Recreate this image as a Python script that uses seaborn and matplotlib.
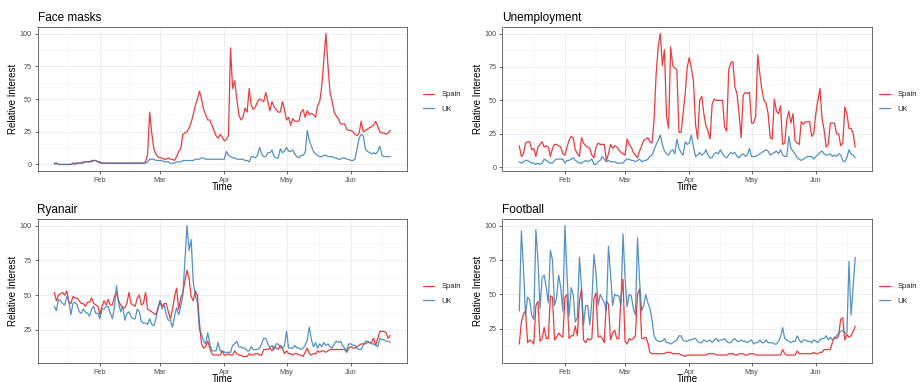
import numpy as np
import pandas as pd
import matplotlib
matplotlib.use("Agg")
import matplotlib.pyplot as plt
import matplotlib.dates as mdates
from matplotlib.lines import Line2D
from matplotlib.ticker import MultipleLocator
import seaborn as sns

# ---------------------------------------------------------------------------
# Daily Google-Trends style relative interest, 10 Jan 2020 - 20 Jun 2020
# ---------------------------------------------------------------------------
start_date = "2020-01-10"
end_date = "2020-06-20"
countries = ["Spain", "UK"]
panel_titles = ["Face masks", "Unemployment", "Ryanair", "Football"]

face_masks_spain = [
    1, 1, 0, 0, 0, 0, 0, 0, 0, 1,
    0, 1, 1, 1, 2, 2, 2, 2, 3, 3,
    3, 2, 2, 1, 1, 1, 1, 1, 1, 1,
    1, 1, 1, 1, 1, 1, 1, 1, 1, 1,
    1, 1, 1, 1, 2, 8, 40, 24, 12, 8,
    6, 5, 5, 4, 4, 5, 4, 4, 3, 6,
    10, 12, 23, 24, 25, 28, 32, 38, 45, 50,
    56, 50, 42, 38, 34, 34, 30, 26, 22, 20,
    23, 21, 18, 19, 22, 89, 58, 64, 50, 38,
    34, 36, 43, 40, 58, 45, 42, 44, 48, 50,
    49, 48, 55, 48, 41, 48, 44, 42, 40, 40,
    48, 42, 34, 36, 30, 35, 33, 33, 33, 40,
    42, 36, 41, 38, 39, 38, 36, 45, 48, 60,
    80, 100, 75, 55, 48, 40, 37, 35, 31, 31,
    31, 27, 26, 26, 25, 23, 22, 24, 33, 25,
    26, 27, 28, 29, 30, 33, 29, 25, 24, 24,
    23, 24, 26,
]
face_masks_uk = [
    0, 1, 0, 0, 0, 0, 0, 0, 0, 1,
    1, 1, 1, 1, 1, 2, 2, 2, 2, 3,
    3, 2, 1, 1, 1, 1, 1, 1, 1, 1,
    1, 1, 1, 1, 1, 1, 1, 1, 1, 1,
    1, 1, 1, 1, 1, 2, 4, 4, 4, 3,
    3, 3, 3, 2, 2, 2, 1, 1, 1, 2,
    2, 2, 3, 3, 3, 3, 3, 3, 4, 4,
    4, 5, 5, 4, 4, 4, 4, 4, 4, 4,
    4, 4, 4, 10, 7, 6, 5, 5, 4, 4,
    4, 4, 3, 3, 2, 6, 6, 5, 7, 13,
    8, 6, 6, 9, 9, 11, 6, 5, 5, 12,
    9, 10, 13, 10, 10, 11, 8, 6, 5, 7,
    7, 9, 26, 18, 14, 10, 8, 7, 6, 6,
    7, 7, 6, 6, 6, 5, 5, 4, 4, 5,
    5, 4, 4, 3, 3, 4, 12, 20, 23, 22,
    12, 10, 9, 8, 9, 8, 10, 14, 7, 6,
    6, 6, 6,
]

unemployment_spain = [
    16, 8, 10, 18, 19, 19, 13, 14, 8, 15,
    17, 19, 15, 16, 15, 8, 14, 17, 17, 16,
    15, 10, 9, 15, 20, 23, 22, 13, 10, 8,
    22, 18, 16, 15, 14, 9, 7, 15, 18, 17,
    17, 17, 5, 10, 17, 14, 16, 15, 13, 11,
    10, 9, 21, 17, 15, 11, 9, 7, 12, 16,
    20, 21, 22, 19, 18, 35, 70, 90, 100, 76,
    88, 38, 29, 90, 76, 74, 73, 26, 26, 40,
    55, 75, 82, 74, 64, 32, 21, 50, 53, 40,
    31, 27, 21, 47, 51, 50, 50, 50, 50, 30,
    27, 73, 78, 79, 60, 55, 40, 22, 54, 56,
    55, 56, 33, 33, 38, 84, 70, 58, 50, 48,
    40, 22, 21, 51, 42, 40, 46, 17, 18, 35,
    42, 33, 40, 20, 18, 17, 34, 32, 34, 34,
    34, 23, 25, 40, 50, 59, 36, 28, 15, 17,
    33, 33, 33, 25, 25, 16, 18, 45, 40, 29,
    29, 25, 15,
]
unemployment_uk = [
    4, 3, 4, 5, 5, 4, 3, 3, 2, 3,
    2, 3, 6, 5, 4, 3, 3, 5, 6, 6,
    6, 6, 3, 5, 5, 6, 7, 5, 4, 3,
    3, 4, 5, 4, 5, 6, 2, 2, 4, 5,
    8, 6, 4, 5, 4, 4, 4, 3, 3, 3,
    3, 5, 6, 6, 5, 5, 4, 5, 6, 4,
    5, 5, 6, 8, 9, 13, 17, 20, 24, 17,
    12, 10, 9, 12, 13, 10, 21, 14, 11, 9,
    19, 17, 18, 24, 15, 8, 9, 11, 9, 10,
    13, 9, 7, 7, 10, 11, 10, 13, 10, 8,
    7, 9, 11, 10, 11, 8, 7, 9, 10, 8,
    9, 14, 8, 8, 8, 9, 10, 11, 12, 13,
    12, 9, 10, 11, 12, 10, 13, 9, 8, 8,
    23, 14, 12, 10, 7, 6, 5, 6, 7, 8,
    8, 8, 6, 8, 9, 11, 12, 10, 9, 9,
    10, 8, 9, 8, 10, 9, 5, 4, 7, 13,
    10, 9, 7,
]

ryanair_spain = [
    52, 46, 50, 51, 52, 50, 53, 45, 44, 49,
    48, 48, 46, 44, 44, 42, 45, 45, 48, 44,
    43, 42, 36, 42, 46, 43, 47, 43, 43, 49,
    52, 46, 43, 41, 41, 44, 52, 44, 43, 42,
    48, 50, 43, 44, 52, 40, 39, 38, 37, 36,
    40, 46, 42, 44, 44, 38, 33, 40, 49, 55,
    40, 48, 52, 60, 68, 62, 49, 46, 53, 50,
    30, 15, 12, 13, 17, 12, 8, 7, 7, 7,
    7, 10, 7, 7, 8, 7, 7, 10, 8, 7,
    7, 6, 6, 6, 8, 7, 7, 8, 8, 7,
    7, 11, 11, 11, 12, 10, 13, 12, 11, 14,
    12, 8, 10, 8, 8, 7, 8, 8, 7, 7,
    6, 9, 12, 8, 7, 8, 8, 10, 9, 10,
    10, 9, 10, 11, 11, 11, 11, 11, 11, 11,
    11, 9, 12, 13, 12, 12, 13, 14, 15, 15,
    15, 16, 16, 16, 19, 14, 19, 24, 24, 24,
    23, 19, 21,
]
ryanair_uk = [
    42, 39, 47, 46, 44, 43, 49, 46, 36, 44,
    45, 43, 38, 37, 40, 38, 37, 35, 40, 42,
    37, 37, 33, 40, 40, 42, 42, 37, 33, 41,
    57, 45, 38, 42, 32, 37, 38, 35, 33, 33,
    40, 38, 31, 30, 30, 29, 33, 29, 28, 33,
    41, 46, 40, 43, 36, 32, 32, 27, 35, 41,
    36, 42, 50, 75, 100, 82, 90, 60, 50, 45,
    25, 22, 17, 15, 23, 15, 10, 10, 10, 16,
    10, 10, 9, 9, 9, 9, 14, 15, 17, 13,
    13, 12, 12, 10, 10, 13, 11, 11, 11, 12,
    15, 19, 19, 15, 12, 14, 11, 15, 15, 12,
    12, 14, 24, 12, 12, 12, 14, 12, 12, 11,
    12, 14, 18, 27, 18, 13, 16, 12, 15, 13,
    16, 14, 15, 13, 12, 15, 17, 16, 17, 14,
    12, 10, 15, 15, 14, 14, 12, 11, 11, 14,
    17, 17, 16, 15, 15, 14, 13, 19, 18, 18,
    17, 17, 16,
]

football_spain = [
    14, 30, 36, 38, 15, 17, 16, 14, 42, 45,
    16, 18, 26, 18, 18, 49, 48, 17, 19, 22,
    20, 19, 48, 50, 18, 20, 20, 27, 20, 45,
    54, 17, 15, 18, 17, 18, 47, 51, 19, 20,
    18, 15, 45, 43, 17, 22, 24, 18, 18, 46,
    61, 16, 14, 18, 17, 18, 20, 50, 54, 18,
    18, 19, 15, 8, 7, 7, 7, 7, 7, 7,
    7, 8, 8, 8, 7, 7, 7, 7, 6, 6,
    5, 6, 6, 6, 6, 6, 6, 6, 6, 6,
    6, 7, 7, 7, 7, 6, 6, 6, 6, 6,
    6, 7, 7, 7, 6, 6, 7, 7, 7, 6,
    6, 7, 7, 7, 6, 6, 6, 6, 6, 6,
    6, 6, 6, 6, 6, 6, 6, 10, 7, 6,
    6, 6, 6, 6, 9, 7, 7, 7, 7, 7,
    7, 7, 8, 7, 7, 8, 8, 10, 10, 10,
    10, 15, 19, 18, 20, 32, 33, 17, 21, 19,
    20, 23, 27,
]
football_uk = [
    38, 96, 70, 35, 48, 46, 35, 32, 97, 75,
    40, 62, 64, 55, 44, 82, 75, 42, 48, 64,
    55, 38, 100, 65, 34, 55, 50, 30, 33, 77,
    55, 28, 42, 42, 28, 45, 79, 65, 42, 50,
    47, 44, 38, 85, 65, 42, 50, 49, 49, 42,
    94, 62, 41, 50, 49, 40, 35, 91, 60, 38,
    42, 50, 44, 40, 32, 20, 17, 16, 16, 16,
    18, 15, 15, 14, 15, 16, 17, 20, 20, 17,
    16, 16, 17, 17, 18, 18, 16, 15, 15, 17,
    16, 16, 17, 15, 17, 18, 16, 17, 17, 18,
    16, 15, 15, 17, 18, 16, 16, 17, 16, 16,
    15, 16, 17, 14, 15, 15, 17, 15, 15, 17,
    15, 15, 15, 14, 14, 16, 19, 26, 18, 17,
    16, 15, 16, 16, 20, 17, 15, 17, 17, 16,
    16, 15, 17, 16, 15, 17, 18, 18, 20, 17,
    19, 17, 18, 20, 22, 23, 24, 22, 22, 74,
    35, 55, 77,
]

series = {
    "Face masks": (face_masks_spain, face_masks_uk),
    "Unemployment": (unemployment_spain, unemployment_uk),
    "Ryanair": (ryanair_spain, ryanair_uk),
    "Football": (football_spain, football_uk),
}

# ---------------------------------------------------------------------------
# Styling
# ---------------------------------------------------------------------------
sns.set_theme(style="white")
plt.rcParams["font.family"] = ["Liberation Sans", "DejaVu Sans"]

palette = {"Spain": "#E41A1C", "UK": "#377EB8"}
dates = pd.date_range(start_date, end_date, freq="D")

W, H = 924, 382
fig = plt.figure(figsize=(W / 100, H / 100), dpi=100)

# panel boxes in pixels: (left, top), plus legend anchor (x, y)
layout = {
    "Face masks": ((37.5, 27), (423, 102)),
    "Unemployment": ((502.5, 27), (879, 102)),
    "Ryanair": ((37.5, 219), (423, 294)),
    "Football": ((502.5, 219), (879, 294)),
}
PW, PH = 369.5, 144

# minor date gridlines sit halfway between month starts
month_starts = mdates.date2num(pd.date_range("2020-01-01", "2020-07-01", freq="MS"))
minor_x = (month_starts[:-1] + month_starts[1:]) / 2

for title in panel_titles:
    (x0, y0), (lx, ly) = layout[title]
    ax = fig.add_axes([x0 / W, 1 - (y0 + PH) / H, PW / W, PH / H])

    spain, uk = series[title]
    assert len(spain) == len(dates) and len(uk) == len(dates)
    df = pd.concat([
        pd.DataFrame({"Time": dates, "Relative Interest": spain, "Country": "Spain"}),
        pd.DataFrame({"Time": dates, "Relative Interest": uk, "Country": "UK"}),
    ], ignore_index=True)

    sns.lineplot(data=df, x="Time", y="Relative Interest", hue="Country",
                 hue_order=countries, palette=palette, linewidth=0.9,
                 alpha=0.85, legend=False, ax=ax)

    # ggplot-like 5% expansion on both axes
    xnum = mdates.date2num(dates)
    xspan = xnum[-1] - xnum[0]
    ax.set_xlim(xnum[0] - 0.05 * xspan, xnum[-1] + 0.05 * xspan)
    vals = np.concatenate([spain, uk])
    lo, hi = vals.min(), vals.max()
    ax.set_ylim(lo - 0.05 * (hi - lo), hi + 0.05 * (hi - lo))

    ax.xaxis.set_major_locator(mdates.MonthLocator())
    ax.xaxis.set_major_formatter(mdates.DateFormatter("%b"))
    ax.set_xticks(minor_x, minor=True)
    ax.yaxis.set_major_locator(MultipleLocator(25))
    ax.yaxis.set_minor_locator(MultipleLocator(12.5))

    ax.tick_params(which="major", length=2.5, width=0.5, color="#333333",
                   labelsize=5.2, labelcolor="#4D4D4D", pad=1.5,
                   bottom=True, left=True)
    ax.tick_params(which="minor", length=0)
    ax.grid(which="major", color="#EBEBEB", linewidth=0.6)
    ax.grid(which="minor", color="#F3F3F3", linewidth=0.4)
    ax.set_axisbelow(True)
    for sp in ax.spines.values():
        sp.set_visible(True)
        sp.set_color("#333333")
        sp.set_linewidth(0.5)

    ax.set_title(title, loc="left", fontsize=8.5, pad=4.5, color="black")
    ax.set_xlabel("Time", fontsize=7, color="black")
    ax.set_ylabel("Relative Interest", fontsize=7, color="black")
    ax.xaxis.label.set_va("center")
    ax.yaxis.label.set_va("center")
    ax.xaxis.set_label_coords(0.5, -0.111)
    ax.yaxis.set_label_coords(-0.066, 0.5)

    handles = [Line2D([], [], color=palette[c], linewidth=0.9, alpha=0.85)
               for c in countries]
    ax.legend(handles, countries, loc="center left",
              bbox_to_anchor=(lx / W, 1 - ly / H), bbox_transform=fig.transFigure,
              frameon=False, fontsize=5.5, handlelength=1.4, handletextpad=1.0,
              labelspacing=1.0, borderaxespad=0, borderpad=0)

fig.savefig("out.png", dpi=100)
